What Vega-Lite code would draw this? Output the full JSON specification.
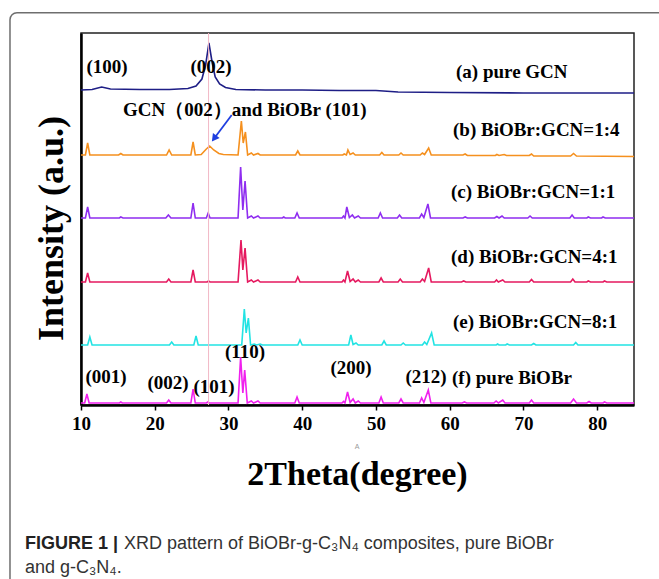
{
  "$schema": "https://vega.github.io/schema/vega-lite/v6.json",
  "width": 553,
  "height": 372,
  "autosize": {"type": "none"},
  "padding": {"left": 81, "top": 33, "right": 25, "bottom": 174},
  "background": "white",
  "config": {
    "view": {"stroke": "#222", "strokeWidth": 1.5},
    "text": {"font": "Liberation Serif"}
  },
  "datasets": {
    "lines": [
      {"s":"a","x":10,"y":315},{"s":"a","x":11.5,"y":315.5},{"s":"a","x":12.8,"y":318},{"s":"a","x":14,"y":316},{"s":"a","x":18,"y":315.5},{"s":"a","x":22,"y":315.5},{"s":"a","x":24.5,"y":316.5},{"s":"a","x":25.6,"y":319},{"s":"a","x":26.4,"y":326},{"s":"a","x":26.9,"y":340},{"s":"a","x":27.35,"y":362},{"s":"a","x":27.8,"y":342},{"s":"a","x":28.2,"y":328},{"s":"a","x":28.8,"y":321},{"s":"a","x":29.6,"y":317.5},{"s":"a","x":31,"y":315.5},{"s":"a","x":35,"y":315},{"s":"a","x":40,"y":315},{"s":"a","x":45,"y":314.5},{"s":"a","x":50,"y":314.5},{"s":"a","x":53,"y":313},{"s":"a","x":60,"y":312.5},{"s":"a","x":70,"y":312},{"s":"a","x":85,"y":312},

      {"s":"b","x":10,"y":250},{"s":"b","x":10.6,"y":250},{"s":"b","x":10.9,"y":262},{"s":"b","x":11.2,"y":250},{"s":"b","x":15.1,"y":250},{"s":"b","x":15.4,"y":251.5},{"s":"b","x":15.7,"y":250},{"s":"b","x":21.6,"y":250},{"s":"b","x":21.95,"y":255},{"s":"b","x":22.3,"y":250},{"s":"b","x":24.9,"y":250},{"s":"b","x":25.2,"y":263},{"s":"b","x":25.5,"y":250},{"s":"b","x":26.3,"y":250.5},{"s":"b","x":27.0,"y":256},{"s":"b","x":27.45,"y":259},{"s":"b","x":28.0,"y":255},{"s":"b","x":28.7,"y":251.5},{"s":"b","x":29.3,"y":250.5},{"s":"b","x":31.3,"y":250},{"s":"b","x":31.75,"y":284},{"s":"b","x":32.0,"y":262},{"s":"b","x":32.3,"y":273},{"s":"b","x":32.6,"y":250},{"s":"b","x":33.1,"y":252},{"s":"b","x":33.4,"y":250},{"s":"b","x":34.0,"y":251.5},{"s":"b","x":34.3,"y":250},{"s":"b","x":39.1,"y":250},{"s":"b","x":39.4,"y":254},{"s":"b","x":39.7,"y":250},{"s":"b","x":45.5,"y":250},{"s":"b","x":45.7,"y":251},{"s":"b","x":46.0,"y":250},{"s":"b","x":46.2,"y":255},{"s":"b","x":46.5,"y":250.5},{"s":"b","x":46.9,"y":252},{"s":"b","x":47.2,"y":250},{"s":"b","x":50.5,"y":250},{"s":"b","x":50.8,"y":252.5},{"s":"b","x":51.1,"y":250},{"s":"b","x":53.1,"y":250},{"s":"b","x":53.4,"y":252},{"s":"b","x":53.7,"y":250},{"s":"b","x":56.0,"y":250},{"s":"b","x":56.3,"y":252},{"s":"b","x":56.6,"y":250.5},{"s":"b","x":57.15,"y":257},{"s":"b","x":57.5,"y":250},{"s":"b","x":61.8,"y":250},{"s":"b","x":62.1,"y":251},{"s":"b","x":62.4,"y":249.5},{"s":"b","x":66.2,"y":249.5},{"s":"b","x":66.4,"y":250.5},{"s":"b","x":66.7,"y":249.5},{"s":"b","x":67.4,"y":250.5},{"s":"b","x":67.7,"y":249.5},{"s":"b","x":70.8,"y":249.5},{"s":"b","x":71.1,"y":251},{"s":"b","x":71.4,"y":249},{"s":"b","x":76.4,"y":249},{"s":"b","x":76.8,"y":251.5},{"s":"b","x":77.2,"y":249},{"s":"b","x":85,"y":248.5},

      {"s":"c","x":10,"y":187},{"s":"c","x":10.6,"y":187},{"s":"c","x":10.9,"y":198},{"s":"c","x":11.2,"y":187},{"s":"c","x":15.2,"y":187},{"s":"c","x":15.4,"y":188},{"s":"c","x":15.7,"y":187},{"s":"c","x":21.5,"y":187},{"s":"c","x":21.85,"y":190},{"s":"c","x":22.2,"y":187},{"s":"c","x":24.9,"y":187},{"s":"c","x":25.2,"y":202},{"s":"c","x":25.5,"y":187},{"s":"c","x":27.0,"y":187},{"s":"c","x":27.25,"y":192},{"s":"c","x":27.5,"y":187},{"s":"c","x":31.3,"y":187},{"s":"c","x":31.65,"y":238},{"s":"c","x":31.95,"y":195},{"s":"c","x":32.25,"y":224},{"s":"c","x":32.6,"y":187},{"s":"c","x":33.1,"y":189},{"s":"c","x":33.4,"y":187},{"s":"c","x":34.0,"y":189},{"s":"c","x":34.3,"y":187},{"s":"c","x":37.3,"y":187},{"s":"c","x":37.5,"y":188},{"s":"c","x":37.7,"y":187},{"s":"c","x":39.0,"y":187},{"s":"c","x":39.3,"y":192},{"s":"c","x":39.6,"y":187},{"s":"c","x":45.4,"y":187},{"s":"c","x":45.6,"y":189},{"s":"c","x":45.8,"y":187},{"s":"c","x":46.05,"y":198},{"s":"c","x":46.4,"y":187.5},{"s":"c","x":46.8,"y":190},{"s":"c","x":47.1,"y":187},{"s":"c","x":47.6,"y":189},{"s":"c","x":47.9,"y":187},{"s":"c","x":50.3,"y":187},{"s":"c","x":50.6,"y":192},{"s":"c","x":50.9,"y":187},{"s":"c","x":52.9,"y":187},{"s":"c","x":53.2,"y":190},{"s":"c","x":53.5,"y":187},{"s":"c","x":55.9,"y":187},{"s":"c","x":56.2,"y":191},{"s":"c","x":56.5,"y":187.5},{"s":"c","x":57.05,"y":201},{"s":"c","x":57.4,"y":187},{"s":"c","x":61.8,"y":187},{"s":"c","x":62.1,"y":188},{"s":"c","x":62.4,"y":187},{"s":"c","x":66.1,"y":187},{"s":"c","x":66.4,"y":188.5},{"s":"c","x":66.7,"y":187},{"s":"c","x":67.1,"y":189},{"s":"c","x":67.4,"y":187},{"s":"c","x":70.6,"y":187},{"s":"c","x":70.9,"y":189},{"s":"c","x":71.2,"y":187},{"s":"c","x":76.3,"y":187},{"s":"c","x":76.6,"y":190},{"s":"c","x":76.9,"y":187},{"s":"c","x":78.6,"y":187},{"s":"c","x":78.8,"y":188},{"s":"c","x":79.1,"y":187},{"s":"c","x":80.6,"y":187},{"s":"c","x":80.8,"y":188},{"s":"c","x":81.1,"y":187},{"s":"c","x":85,"y":187},

      {"s":"d","x":10,"y":123},{"s":"d","x":10.6,"y":123},{"s":"d","x":10.9,"y":132},{"s":"d","x":11.2,"y":123},{"s":"d","x":21.6,"y":123},{"s":"d","x":21.9,"y":126},{"s":"d","x":22.2,"y":123},{"s":"d","x":24.9,"y":123},{"s":"d","x":25.2,"y":135},{"s":"d","x":25.5,"y":123},{"s":"d","x":27.1,"y":123},{"s":"d","x":27.3,"y":124},{"s":"d","x":27.5,"y":123},{"s":"d","x":31.3,"y":123},{"s":"d","x":31.7,"y":165},{"s":"d","x":31.95,"y":135},{"s":"d","x":32.25,"y":157},{"s":"d","x":32.6,"y":123},{"s":"d","x":33.1,"y":125},{"s":"d","x":33.4,"y":123},{"s":"d","x":34.0,"y":125},{"s":"d","x":34.3,"y":123},{"s":"d","x":39.1,"y":123},{"s":"d","x":39.4,"y":128},{"s":"d","x":39.7,"y":123},{"s":"d","x":45.4,"y":123},{"s":"d","x":45.6,"y":125},{"s":"d","x":45.8,"y":123},{"s":"d","x":46.15,"y":134},{"s":"d","x":46.5,"y":123.5},{"s":"d","x":46.9,"y":126},{"s":"d","x":47.2,"y":123},{"s":"d","x":47.6,"y":125},{"s":"d","x":47.9,"y":123},{"s":"d","x":50.4,"y":123},{"s":"d","x":50.7,"y":127},{"s":"d","x":51.0,"y":123},{"s":"d","x":53.0,"y":123},{"s":"d","x":53.3,"y":126},{"s":"d","x":53.6,"y":123},{"s":"d","x":56.0,"y":123},{"s":"d","x":56.3,"y":126},{"s":"d","x":56.6,"y":123.5},{"s":"d","x":57.15,"y":137},{"s":"d","x":57.5,"y":123},{"s":"d","x":61.6,"y":123},{"s":"d","x":61.9,"y":124},{"s":"d","x":62.2,"y":123},{"s":"d","x":66.1,"y":123},{"s":"d","x":66.35,"y":125},{"s":"d","x":66.6,"y":123},{"s":"d","x":67.2,"y":125},{"s":"d","x":67.5,"y":123},{"s":"d","x":70.8,"y":123},{"s":"d","x":71.1,"y":125.5},{"s":"d","x":71.4,"y":123},{"s":"d","x":76.4,"y":123},{"s":"d","x":76.7,"y":126},{"s":"d","x":77.0,"y":123},{"s":"d","x":78.6,"y":123},{"s":"d","x":78.8,"y":124},{"s":"d","x":79.1,"y":123},{"s":"d","x":80.8,"y":123},{"s":"d","x":81.0,"y":124},{"s":"d","x":81.3,"y":123},{"s":"d","x":85,"y":123},

      {"s":"e","x":10,"y":60},{"s":"e","x":10.9,"y":60},{"s":"e","x":11.2,"y":68},{"s":"e","x":11.5,"y":60},{"s":"e","x":22.0,"y":60},{"s":"e","x":22.3,"y":63},{"s":"e","x":22.6,"y":60},{"s":"e","x":25.3,"y":60},{"s":"e","x":25.6,"y":69},{"s":"e","x":25.9,"y":60},{"s":"e","x":31.8,"y":60},{"s":"e","x":32.15,"y":96},{"s":"e","x":32.4,"y":72},{"s":"e","x":32.7,"y":87},{"s":"e","x":33.0,"y":60},{"s":"e","x":33.5,"y":61},{"s":"e","x":33.8,"y":60},{"s":"e","x":34.3,"y":61},{"s":"e","x":34.6,"y":60},{"s":"e","x":39.4,"y":60},{"s":"e","x":39.7,"y":65},{"s":"e","x":40.0,"y":60},{"s":"e","x":46.3,"y":60},{"s":"e","x":46.6,"y":70},{"s":"e","x":46.9,"y":60.5},{"s":"e","x":47.3,"y":62},{"s":"e","x":47.6,"y":60},{"s":"e","x":50.8,"y":60},{"s":"e","x":51.1,"y":64},{"s":"e","x":51.4,"y":60},{"s":"e","x":53.4,"y":60},{"s":"e","x":53.7,"y":62},{"s":"e","x":54.0,"y":60},{"s":"e","x":56.3,"y":60},{"s":"e","x":56.6,"y":63},{"s":"e","x":56.9,"y":60.5},{"s":"e","x":57.55,"y":72},{"s":"e","x":57.9,"y":60},{"s":"e","x":66.3,"y":60},{"s":"e","x":66.5,"y":61},{"s":"e","x":66.7,"y":60},{"s":"e","x":67.6,"y":60},{"s":"e","x":67.8,"y":61},{"s":"e","x":68.1,"y":60},{"s":"e","x":71.1,"y":60},{"s":"e","x":71.4,"y":61.5},{"s":"e","x":71.7,"y":60},{"s":"e","x":76.8,"y":60},{"s":"e","x":77.1,"y":62.5},{"s":"e","x":77.4,"y":60},{"s":"e","x":85,"y":60},

      {"s":"f","x":10,"y":2},{"s":"f","x":10.5,"y":2},{"s":"f","x":10.8,"y":11},{"s":"f","x":11.1,"y":2},{"s":"f","x":15.2,"y":2},{"s":"f","x":15.4,"y":3},{"s":"f","x":15.6,"y":2},{"s":"f","x":21.6,"y":2},{"s":"f","x":21.9,"y":5},{"s":"f","x":22.2,"y":2},{"s":"f","x":24.9,"y":2},{"s":"f","x":25.2,"y":16},{"s":"f","x":25.5,"y":2},{"s":"f","x":27.0,"y":2},{"s":"f","x":27.2,"y":3},{"s":"f","x":27.4,"y":2},{"s":"f","x":31.3,"y":2},{"s":"f","x":31.65,"y":48},{"s":"f","x":31.95,"y":12},{"s":"f","x":32.2,"y":35},{"s":"f","x":32.55,"y":2},{"s":"f","x":33.1,"y":4},{"s":"f","x":33.4,"y":2},{"s":"f","x":34.0,"y":4},{"s":"f","x":34.3,"y":2},{"s":"f","x":39.0,"y":2},{"s":"f","x":39.3,"y":8},{"s":"f","x":39.6,"y":2},{"s":"f","x":45.4,"y":2},{"s":"f","x":45.6,"y":3.5},{"s":"f","x":45.8,"y":2},{"s":"f","x":46.15,"y":13},{"s":"f","x":46.5,"y":2.5},{"s":"f","x":46.9,"y":6},{"s":"f","x":47.2,"y":2},{"s":"f","x":47.6,"y":4},{"s":"f","x":47.9,"y":2},{"s":"f","x":50.4,"y":2},{"s":"f","x":50.7,"y":8},{"s":"f","x":51.0,"y":2},{"s":"f","x":53.1,"y":2},{"s":"f","x":53.4,"y":6},{"s":"f","x":53.7,"y":2},{"s":"f","x":55.9,"y":2},{"s":"f","x":56.2,"y":7},{"s":"f","x":56.5,"y":2.5},{"s":"f","x":57.1,"y":15},{"s":"f","x":57.45,"y":2},{"s":"f","x":61.7,"y":2},{"s":"f","x":62.0,"y":3},{"s":"f","x":62.3,"y":2},{"s":"f","x":66.0,"y":2},{"s":"f","x":66.3,"y":4},{"s":"f","x":66.6,"y":2},{"s":"f","x":67.2,"y":5},{"s":"f","x":67.5,"y":2},{"s":"f","x":70.8,"y":2},{"s":"f","x":71.1,"y":5},{"s":"f","x":71.4,"y":2},{"s":"f","x":76.4,"y":2},{"s":"f","x":76.8,"y":6},{"s":"f","x":77.2,"y":2},{"s":"f","x":78.6,"y":2},{"s":"f","x":78.9,"y":3.5},{"s":"f","x":79.2,"y":2},{"s":"f","x":80.8,"y":2},{"s":"f","x":81.0,"y":3},{"s":"f","x":81.3,"y":2},{"s":"f","x":85,"y":2}
    ],
    "labC": [
      {"t":"(100)","x":13.53,"y":338},
      {"t":"(002)","x":27.63,"y":338},
      {"t":"(212)","x":56.79,"y":28},
      {"t":"(200)","x":46.62,"y":37},
      {"t":"(110)","x":32.24,"y":53},
      {"t":"(101)","x":28.04,"y":18},
      {"t":"(002)","x":21.8,"y":22},
      {"t":"(001)","x":13.39,"y":28}
    ],
    "labL": [
      {"t":"(a) pure GCN","x":60.86,"y":333},
      {"t":"GCN（002）and BiOBr (101)","x":15.7,"y":295},
      {"t":"(b) BiOBr:GCN=1:4","x":60.45,"y":275},
      {"t":"(c) BiOBr:GCN=1:1","x":60.18,"y":213},
      {"t":"(d) BiOBr:GCN=4:1","x":60.18,"y":148},
      {"t":"(e) BiOBr:GCN=8:1","x":60.45,"y":83},
      {"t":"(f) pure BiOBr","x":60.32,"y":27}
    ]
  },
  "layer": [
    {
      "data": {"name": "lines"},
      "mark": {"type": "line", "strokeWidth": 1.6, "interpolate": "linear"},
      "encoding": {
        "x": {
          "field": "x", "type": "quantitative",
          "scale": {"domain": [10, 85], "nice": false, "zero": false},
          "axis": {
            "title": "2Theta(degree)",
            "values": [10, 15, 20, 25, 30, 35, 40, 45, 50, 55, 60, 65, 70, 75, 80],
            "labelExpr": "datum.value % 10 === 0 ? datum.label : ''",
            "grid": false,
            "domainColor": "#000", "domainWidth": 2.5,
            "tickColor": "#000", "tickWidth": 1.5, "tickSize": 5,
            "labelFont": "Liberation Serif", "labelFontWeight": "bold", "labelFontSize": 19, "labelColor": "#000",
            "labelPadding": 4, "labelFlush": false, "labelOverlap": false,
            "titleFont": "Liberation Serif", "titleFontWeight": "bold", "titleFontSize": 34, "titleColor": "#000",
            "titleBaseline": "alphabetic", "titleY": 79, "titleX": 276
          }
        },
        "y": {
          "field": "y", "type": "quantitative",
          "scale": {"domain": [0, 372], "nice": false, "zero": false},
          "axis": {
            "title": "Intensity (a.u.)",
            "labels": false, "ticks": false, "grid": false,
            "domainColor": "#000", "domainWidth": 2.5,
            "titleFont": "Liberation Serif", "titleFontWeight": "bold", "titleFontSize": 36, "titleColor": "#000",
            "titlePadding": 11, "titleY": 195
          }
        },
        "color": {
          "field": "s", "type": "nominal",
          "scale": {"domain": ["a", "b", "c", "d", "e", "f"], "range": ["#1e1e86", "#f5901e", "#8f2df0", "#e5195f", "#22e3e3", "#f020ee"]},
          "legend": null
        },
        "detail": {"field": "s"}
      }
    },
    {
      "data": {"values": [{"x": 0.37, "x2": 95, "y": 392.3, "y2": -230}]},
      "mark": {"type": "rect", "fill": null, "fillOpacity": 0, "stroke": "#6e6e6e", "strokeWidth": 1.5, "cornerRadius": 7},
      "encoding": {
        "x": {"field": "x", "type": "quantitative"},
        "x2": {"field": "x2"},
        "y": {"field": "y", "type": "quantitative"},
        "y2": {"field": "y2"}
      }
    },
    {
      "data": {"values": [{"x": 27.3, "y": 0, "y2": 372}]},
      "mark": {"type": "rule", "color": "#f2b8c6", "strokeWidth": 1},
      "encoding": {
        "x": {"field": "x", "type": "quantitative"},
        "y": {"field": "y", "type": "quantitative"},
        "y2": {"field": "y2"}
      }
    },
    {
      "data": {"values": [{"x": 30.44, "y": 290, "x2": 28.05, "y2": 266.5}]},
      "mark": {"type": "rule", "color": "#1f3fe0", "strokeWidth": 1.8},
      "encoding": {
        "x": {"field": "x", "type": "quantitative"},
        "y": {"field": "y", "type": "quantitative"},
        "x2": {"field": "x2"},
        "y2": {"field": "y2"}
      }
    },
    {
      "data": {"values": [{"x": 28.05, "y": 266.5}]},
      "mark": {"type": "point", "shape": "triangle-up", "filled": true, "color": "#1f3fe0", "size": 70, "angle": 217, "opacity": 1},
      "encoding": {
        "x": {"field": "x", "type": "quantitative"},
        "y": {"field": "y", "type": "quantitative"}
      }
    },
    {
      "data": {"name": "labC"},
      "mark": {"type": "text", "font": "Liberation Serif", "fontWeight": "bold", "fontSize": 19, "color": "#000", "align": "center", "baseline": "middle"},
      "encoding": {
        "x": {"field": "x", "type": "quantitative"},
        "y": {"field": "y", "type": "quantitative"},
        "text": {"field": "t"}
      }
    },
    {
      "data": {"name": "labL"},
      "mark": {"type": "text", "font": "Liberation Serif", "fontWeight": "bold", "fontSize": 19, "color": "#000", "align": "left", "baseline": "middle"},
      "encoding": {
        "x": {"field": "x", "type": "quantitative"},
        "y": {"field": "y", "type": "quantitative"},
        "text": {"field": "t"}
      }
    },
    {
      "data": {"values": [{"x": 47.43, "y": -42, "t": "A"}]},
      "mark": {"type": "text", "font": "Liberation Sans", "fontSize": 7, "color": "#999", "align": "center", "baseline": "middle"},
      "encoding": {
        "x": {"field": "x", "type": "quantitative"},
        "y": {"field": "y", "type": "quantitative"},
        "text": {"field": "t"}
      }
    },
    {
      "data": {"values": [{"x": 2.405, "y": -144.3, "t": "FIGURE 1 |"}]},
      "mark": {"type": "text", "font": "Liberation Sans", "fontWeight": "bold", "fontSize": 18, "color": "#222", "align": "left", "baseline": "alphabetic"},
      "encoding": {
        "x": {"field": "x", "type": "quantitative"},
        "y": {"field": "y", "type": "quantitative"},
        "text": {"field": "t"}
      }
    },
    {
      "data": {"values": [
        {"x": 15.83, "y": -144.3, "t": "XRD pattern of BiOBr-g-C₃N₄ composites, pure BiOBr"},
        {"x": 2.405, "y": -168.3, "t": "and g-C₃N₄."}
      ]},
      "mark": {"type": "text", "font": "Liberation Sans", "fontSize": 18, "color": "#333", "align": "left", "baseline": "alphabetic"},
      "encoding": {
        "x": {"field": "x", "type": "quantitative"},
        "y": {"field": "y", "type": "quantitative"},
        "text": {"field": "t"}
      }
    }
  ]
}
